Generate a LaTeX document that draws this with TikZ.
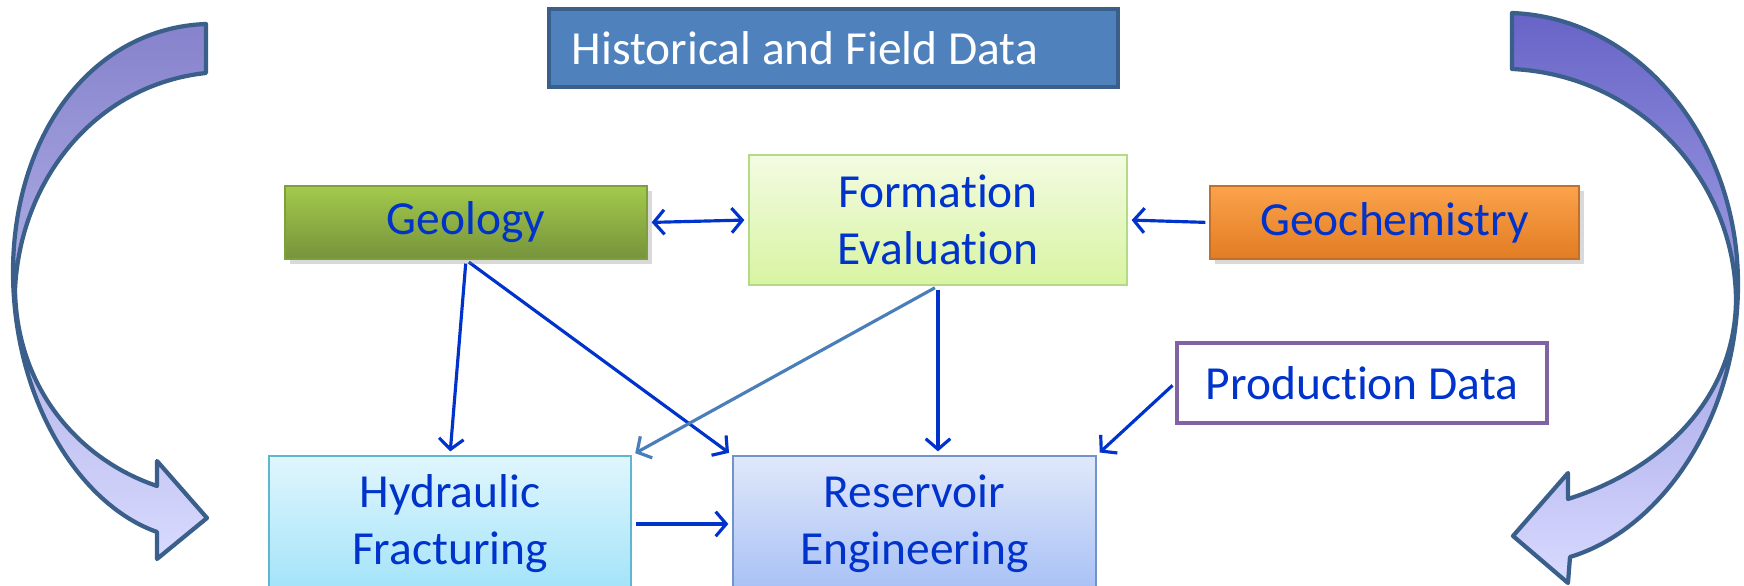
\documentclass[tikz,border=0pt]{standalone}
\usepackage{fontspec}
\setmainfont{Carlito}[Ligatures=NoCommon]
\usepackage{tikz}
\usetikzlibrary{arrows.meta}
\usetikzlibrary{shadows}
\pgfdeclarelayer{edgelayer}
\pgfdeclarelayer{nodelayer}
\pgfsetlayers{edgelayer,nodelayer,main}
\definecolor{txtblue}{HTML}{0033CC}
\definecolor{linkpale}{HTML}{4A7EBB}
\definecolor{bigedge}{HTML}{3A5F8A}
\definecolor{headfill}{HTML}{4F81BD}
\definecolor{geoedge}{HTML}{7F9E3C}
\definecolor{geotop}{HTML}{A3CA4C}
\definecolor{geobot}{HTML}{76933B}
\definecolor{formedge}{HTML}{B5DA86}
\definecolor{formtop}{HTML}{F3FBE2}
\definecolor{formbot}{HTML}{D8F4A2}
\definecolor{chemedge}{HTML}{C0702A}
\definecolor{chemtop}{HTML}{FBA34C}
\definecolor{chembot}{HTML}{E27C22}
\definecolor{prodedge}{HTML}{8064A2}
\definecolor{hydedge}{HTML}{5DB7CE}
\definecolor{hydtop}{HTML}{E0F6FD}
\definecolor{hydbot}{HTML}{A2E3F9}
\definecolor{resedge}{HTML}{7193C8}
\definecolor{restop}{HTML}{E0E8FA}
\definecolor{resbot}{HTML}{A7C0F5}
\definecolor{leftop}{HTML}{8682CC}
\definecolor{lefmid}{HTML}{8C8DE4}
\definecolor{rigtop}{HTML}{6864C8}
\definecolor{rigmid}{HTML}{8A89DA}
\definecolor{arcbot}{HTML}{D8DAFF}
\tikzstyle{box}=[inner sep=2pt, align=center, text=txtblue, font=\fontsize{13.5}{16.2}\selectfont, line width=0.6pt]
\tikzstyle{head}=[box, fill=headfill, draw=bigedge, line width=1.2pt, text=white, align=flush left, text width=5.23cm, inner xsep=0.23cm, minimum height=0.78cm]
\tikzstyle{shade}=[drop shadow={opacity=0.3, shadow xshift=1.5pt, shadow yshift=-1.5pt}]
\tikzstyle{link}=[draw=txtblue, line width=0.9pt, -{Straight Barb[length=3pt,width=7pt]}, shorten >=1pt, shorten <=1pt]
\tikzstyle{bigarrow}=[draw=bigedge, line width=1.2pt, line join=round]

\begin{document}
\begin{tikzpicture}[x=0.01cm, y=-0.01cm]
	\useasboundingbox (0,0) rectangle (1744,586);
	\begin{pgfonlayer}{nodelayer}
		\node [style=head] (0) at (833.5, 48) {Historical and Field Data};
		\node [style=box, style=shade, draw=geoedge, top color=geotop, bottom color=geobot, minimum width=3.62cm, minimum height=0.73cm] (1) at (466, 222.5) {Geology};
		\node [style=box, draw=formedge, top color=formtop, bottom color=formbot, minimum width=3.78cm, minimum height=1.3cm] (2) at (938, 220) {Formation\\Evaluation};
		\node [style=box, style=shade, draw=chemedge, top color=chemtop, bottom color=chembot, minimum width=3.69cm, minimum height=0.73cm] (3) at (1394.5, 222.5) {Geochemistry};
		\node [style=box, draw=prodedge, fill=white, line width=1pt, minimum width=3.7cm, minimum height=0.8cm] (4) at (1362, 383) {Production Data};
		\node [style=box, draw=hydedge, top color=hydtop, bottom color=hydbot, minimum width=3.62cm, minimum height=1.36cm] (5) at (450, 524) {Hydraulic\\Fracturing};
		\node [style=box, draw=resedge, top color=restop, bottom color=resbot, minimum width=3.63cm, minimum height=1.36cm] (6) at (914.5, 524) {Reservoir\\Engineering};
	\end{pgfonlayer}
	\begin{pgfonlayer}{edgelayer}
		\draw [style=bigarrow, top color=leftop, middle color=lefmid, bottom color=arcbot] (206,24) .. controls (95,28) and (15,130) .. (13,268) .. controls (12,400) and (80,505) .. (157,532) -- (157,559) -- (207,518) -- (157,461) -- (157,486) .. controls (80,460) and (17,390) .. (15,290) .. controls (20,180) and (95,85) .. (206,73) -- cycle;
		\draw [style=bigarrow, top color=rigtop, middle color=rigmid, bottom color=arcbot] (1512,13) .. controls (1640,18) and (1738,140) .. (1738,284) .. controls (1738,420) and (1660,530) .. (1570,557) -- (1568,583) -- (1513,536) -- (1568,473) -- (1568,499) .. controls (1660,470) and (1735,400) .. (1736,300) .. controls (1735,180) and (1640,75) .. (1512,69) -- cycle;
		\draw [style=link, {Straight Barb[length=3pt,width=7pt]}-{Straight Barb[length=3pt,width=7pt]}] (1.east) to (2.west);
		\draw [style=link] (3.west) to (2.east);
		\draw [style=link] (1.south) to (5.north);
		\draw [style=link] (1.south) to (6.north west);
		\draw [style=link] (2.south) to (2.south |- 6.north);
		\draw [style=link, draw=linkpale] (2.south) to (5.north east);
		\draw [style=link] (4.west) to (6.north east);
		\draw [style=link] (5.east) to (6.west);
	\end{pgfonlayer}
\end{tikzpicture}
\end{document}
